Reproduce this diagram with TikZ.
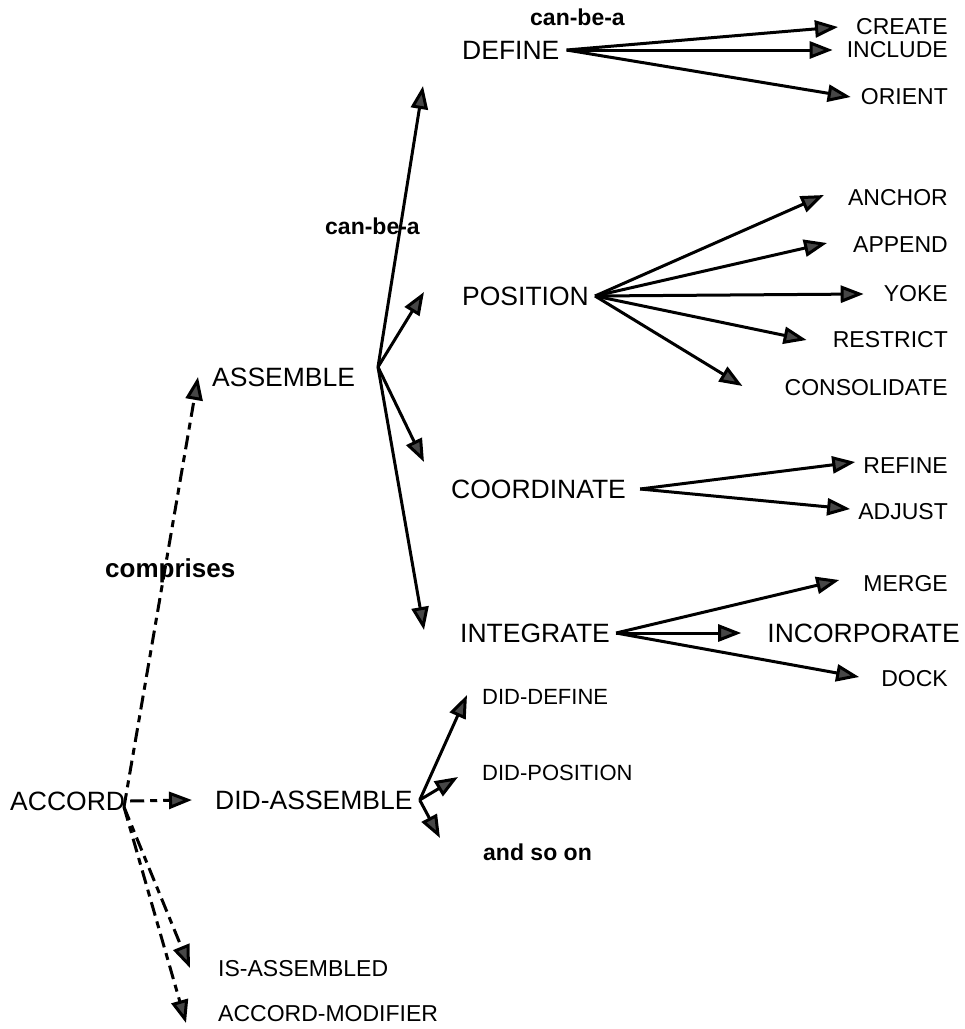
\documentclass[tikz,border=0pt]{standalone}
\usepackage{fontspec}
\setmainfont{Liberation Sans}
\usetikzlibrary{arrows.meta}
\begin{document}
\begin{tikzpicture}[x=1pt,y=-1pt,
  big/.style={inner sep=0pt, font=\fontsize{26.5}{30}\selectfont},
  term/.style={inner sep=0pt, font=\fontsize{23}{27}\selectfont},
  small/.style={inner sep=0pt, font=\fontsize{22}{26}\selectfont},
  relname/.style={inner sep=0pt, font=\fontsize{23}{27}\selectfont\bfseries},
  isa/.style={line width=3pt, -{Triangle[length=23pt,width=17pt,fill=black!72]}},
  part/.style={isa, dash pattern=on 14pt off 6pt on 7pt off 6pt}]
\useasboundingbox (0,0) rectangle (965,1029);

% concept names
\node[big,anchor=west] (accord)   at (10,801)  {ACCORD};
\node[big,anchor=west] (assemble) at (212,377) {ASSEMBLE};
\node[big,anchor=west] (didasm)   at (215,800) {DID-ASSEMBLE};
\node[term,anchor=west] (isasm)   at (218,969) {IS-ASSEMBLED};
\node[term,anchor=west] (accmod)  at (218,1014) {ACCORD-MODIFIER};

\node[big,anchor=west] (define)   at (462,50)  {DEFINE};
\node[big,anchor=west] (position) at (462,296) {POSITION};
\node[big,anchor=west] (coord)    at (451,489) {COORDINATE};
\node[big,anchor=west] (integ)    at (460,633) {INTEGRATE};

\node[term,anchor=east] (create)   at (948,27)  {CREATE};
\node[term,anchor=east] (include)  at (948,50)  {INCLUDE};
\node[term,anchor=east] (orient)   at (948,97)  {ORIENT};
\node[term,anchor=east] (anchor)   at (948,198) {ANCHOR};
\node[term,anchor=east] (append)   at (948,245) {APPEND};
\node[term,anchor=east] (yoke)     at (948,294) {YOKE};
\node[term,anchor=east] (restrict) at (948,340) {RESTRICT};
\node[term,anchor=east] (consol)   at (948,388) {CONSOLIDATE};
\node[term,anchor=east] (refine)   at (948,466) {REFINE};
\node[term,anchor=east] (adjust)   at (948,512) {ADJUST};
\node[term,anchor=east] (merge)    at (948,584) {MERGE};
\node[big,anchor=east]  (incorp)   at (960,633) {INCORPORATE};
\node[term,anchor=east] (dock)     at (948,679) {DOCK};

\node[small,anchor=west] (diddef)  at (482,697) {DID-DEFINE};
\node[small,anchor=west] (didpos)  at (482,773) {DID-POSITION};

% relation labels
\node[relname,anchor=west] (cba1) at (530,17)  {can-be-a};
\node[relname,anchor=west] (cba2) at (325,226) {can-be-a};
\node[relname,anchor=west,font=\fontsize{26}{30}\selectfont\bfseries] (comp) at (105,571) {comprises};
\node[relname,anchor=west] (more) at (483,852) {and so on};

% branching points
\coordinate (accJ) at (124,807);
\coordinate (asmJ) at (378,367);
\coordinate (defJ) at ([xshift=7pt]define.east);
\coordinate (posJ) at ([xshift=6pt]position.east);
\coordinate (coJ)  at ([xshift=14pt]coord.east);
\coordinate (inJ)  at ([xshift=6pt]integ.east);
\coordinate (didJ) at ([xshift=7pt]didasm.east);

% ACCORD comprises ...
\draw[part] (accJ) -- ([shift={(-14,0)}]assemble.west);
\draw[part] ([xshift=5pt]accord.east) -- ([shift={(-23,0)}]didasm.west);
\draw[part] (accJ) -- ([shift={(-28,-1)}]isasm.west);
\draw[part] (accJ) -- ([shift={(-32,9)}]accmod.west);

% ASSEMBLE can-be-a ...
\draw[isa] (asmJ) -- ([shift={(-39,36)}]define.west);
\draw[isa] (asmJ) -- ([shift={(-38,-4)}]position.west);
\draw[isa] (asmJ) -- ([shift={(-27,-27)}]coord.west);
\draw[isa] (asmJ) -- ([shift={(-36,-3)}]integ.west);

% DEFINE can-be-a ...
\draw[isa] (defJ) -- ([shift={(-18,0)}]create.west);
\draw[isa] (defJ) -- ([shift={(-14,0)}]include.west);
\draw[isa] (defJ) -- ([shift={(-10,0)}]orient.west);

% POSITION can-be-a ...
\draw[isa] (posJ) -- ([shift={(-24,-3)}]anchor.west);
\draw[isa] (posJ) -- ([shift={(-26,-2)}]append.west);
\draw[isa] (posJ) -- ([shift={(-20,0)}]yoke.west);
\draw[isa] (posJ) -- ([shift={(-26,0)}]restrict.west);
\draw[isa] (posJ) -- ([shift={(-42,-2)}]consol.west);

% COORDINATE can-be-a ...
\draw[isa] (coJ) -- ([shift={(-8,-4)}]refine.west);
\draw[isa] (coJ) -- ([shift={(-8,-3)}]adjust.west);

% INTEGRATE can-be-a ...
\draw[isa] (inJ) -- ([shift={(-24,-4)}]merge.west);
\draw[isa] (inJ) -- ([shift={(-26,0)}]incorp.west);
\draw[isa] (inJ) -- ([shift={(-22,-2)}]dock.west);

% DID-ASSEMBLE ...
\draw[isa] (didJ) -- ([shift={(-15,-2)}]diddef.west);
\draw[isa] (didJ) -- ([shift={(-24,4)}]didpos.west);
\draw[isa] (didJ) -- ([shift={(-43,-14)}]more.west);
\end{tikzpicture}
\end{document}
